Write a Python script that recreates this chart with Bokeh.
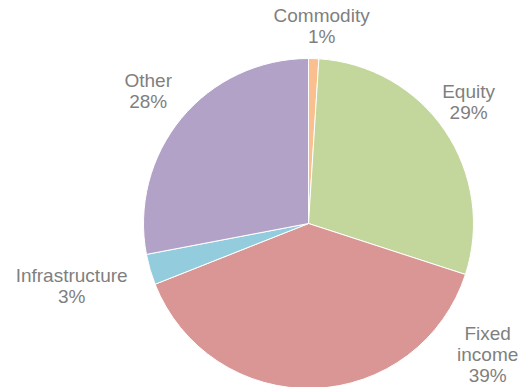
import math
from bokeh.plotting import figure
from bokeh.models import Range1d, ColumnDataSource
from bokeh.core.properties import value
from bokeh.embed import file_html
from bokeh.resources import INLINE

# ---- data ----
categories = ["Commodity", "Equity", "Fixed income", "Infrastructure", "Other"]
shares = [1, 29, 39, 3, 28]
label_lines = [["Commodity", "1%"], ["Equity", "29%"], ["Fixed", "income", "39%"],
               ["Infrastructure", "3%"], ["Other", "28%"]]
colors = ["#FABF8F", "#C3D69B", "#D99694", "#93CDDD", "#B3A2C7"]

# ---- layout / style ----
W, H = 521, 387
CX, CY, R = 308, 164, 165          # pie centre / radius in pixel units
label_dangle = [2.0, -3.0, -52.0, 1.4, 0.0]   # label angle shift from slice bisector (deg)
label_r = [198, 201, 222, 245, 208]           # label anchor distance from centre
LINE_H = 21
TEXT_COLOR = "#7F7F7F"
FONT = "Liberation Sans"

p = figure(width=W, height=H, output_backend="svg", toolbar_location=None,
           x_range=Range1d(0, W), y_range=Range1d(0, H),
           min_border=0, outline_line_color=None)
p.axis.visible = False
p.grid.visible = False

total = sum(shares)
starts, ends, mids = [], [], []
cum = 0.0
for s in shares:
    a0 = cum / total * 2 * math.pi
    cum += s
    a1 = cum / total * 2 * math.pi
    # clockwise from 12 o'clock -> bokeh anticlockwise from +x
    starts.append(math.pi / 2 - a1)
    ends.append(math.pi / 2 - a0)
    mids.append((a0 + a1) / 2)

src = ColumnDataSource(dict(start=starts, end=ends, color=colors, cat=categories))
p.wedge(x=CX, y=CY, radius=R, start_angle="start", end_angle="end",
        fill_color="color", line_color="white", line_width=1, source=src)

tx, ty, tt = [], [], []
for i, lines in enumerate(label_lines):
    th = mids[i] + math.radians(label_dangle[i])
    ax = CX + label_r[i] * math.sin(th)
    ay = CY + label_r[i] * math.cos(th)
    n = len(lines)
    for j, t in enumerate(lines):
        tx.append(ax)
        ty.append(ay + ((n - 1) / 2 - j) * LINE_H)
        tt.append(t)

p.text(x=tx, y=ty, text=tt, text_align="center", text_baseline="middle",
       text_color=TEXT_COLOR, text_font=value(FONT), text_font_size="19px")

open("out.html", "w").write(file_html(p, INLINE))
